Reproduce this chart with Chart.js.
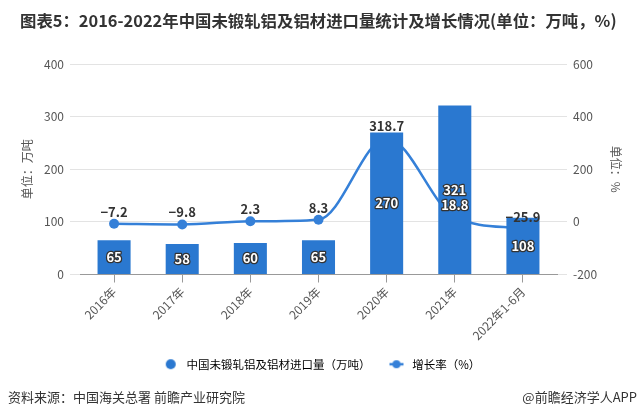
<!DOCTYPE html>
<html><head><meta charset="utf-8">
<script src="https://cdn.jsdelivr.net/npm/chart.js@4.4.1/dist/chart.umd.min.js"></script>
<style>
html,body{margin:0;padding:0;background:#fff;}
#wrap{position:relative;width:641px;height:420px;overflow:hidden;font-family:"Noto Sans CJK SC","Noto Sans",sans-serif;}
#title{position:absolute;left:20px;top:8px;font-size:16.4px;font-weight:bold;color:#333;white-space:nowrap;line-height:24px;}
#src{position:absolute;left:8px;top:388px;font-size:13px;color:#333;white-space:nowrap;line-height:18px;}
#app{position:absolute;right:4px;top:388px;font-size:13px;color:#333;white-space:nowrap;line-height:18px;}
canvas{position:absolute;left:0;top:0;}
</style></head>
<body><div id="wrap">
<canvas id="c" width="641" height="420"></canvas>
<div id="title">图表5：2016-2022年中国未锻轧铝及铝材进口量统计及增长情况(单位：万吨，%)</div>
<div id="src">资料来源：中国海关总署 前瞻产业研究院</div>
<div id="app">@前瞻经济学人APP</div>
</div>
<script>
const categories = ['2016年','2017年','2018年','2019年','2020年','2021年','2022年1-6月'];
const importVolume = [65, 58, 60, 65, 270, 321, 108];
const growthRate = [-7.2, -9.8, 2.3, 8.3, 318.7, 18.8, -25.9];
const leftTicks = [0, 100, 200, 300, 400];
const rightTicks = [-200, 0, 200, 400, 600];
const seriesNames = ['中国未锻轧铝及铝材进口量（万吨）', '增长率（%）'];

const BAR = '#2a78d0';
const LINE = '#3580d8';
const FONT = '"Noto Sans CJK SC","Noto Sans",sans-serif';

function mkCanvas(w, h, draw) { const c = document.createElement('canvas'); c.width = w; c.height = h; draw(c.getContext('2d')); return c; }
const circleIcon = mkCanvas(12, 12, g => { g.fillStyle = BAR; g.beginPath(); g.arc(6, 6, 5, 0, Math.PI * 2); g.fill(); });
const lineIcon = mkCanvas(16, 10, g => { g.strokeStyle = LINE; g.lineWidth = 2.5; g.beginPath(); g.moveTo(1, 5); g.lineTo(15, 5); g.stroke(); g.fillStyle = LINE; g.beginPath(); g.arc(8, 5, 4, 0, Math.PI * 2); g.fill(); });

const fmt = v => (v < 0 ? '\u2212' + Math.abs(v) : String(v));

const labelPlugin = {
  id: 'valueLabels',
  afterDatasetsDraw(chart) {
    const ctx = chart.ctx;
    const barMeta = chart.getDatasetMeta(0);
    const lineMeta = chart.getDatasetMeta(1);
    ctx.save();
    ctx.font = 'bold 13px ' + FONT;
    ctx.textAlign = 'center';
    ctx.textBaseline = 'middle';
    ctx.lineJoin = 'round';
    const outlined = (t, x, y) => { ctx.lineWidth = 2.5; ctx.strokeStyle = '#333'; ctx.strokeText(t, x, y); ctx.fillStyle = '#fff'; ctx.fillText(t, x, y); };
    barMeta.data.forEach((el, i) => {
      outlined(String(importVolume[i]), el.x, (el.y + el.base) / 2);
    });
    lineMeta.data.forEach((pt, i) => {
      const y = pt.y - 12;
      const bar = barMeta.data[i];
      const t = fmt(growthRate[i]);
      if (bar && y > bar.y + 6 && Math.abs(pt.x - bar.x) < bar.width / 2) {
        outlined(t, pt.x, y);
      } else {
        ctx.fillStyle = '#333';
        ctx.fillText(t, pt.x, y);
      }
    });
    ctx.restore();
  }
};

new Chart(document.getElementById('c'), {
  data: {
    labels: categories,
    datasets: [
      { type: 'bar', label: seriesNames[0], data: importVolume, yAxisID: 'y', backgroundColor: BAR,
        categoryPercentage: 1, barPercentage: 0.485, order: 1 },
      { type: 'line', label: seriesNames[1], data: growthRate, yAxisID: 'y1', borderColor: LINE, borderWidth: 2.5,
        cubicInterpolationMode: 'monotone', pointRadius: 5, pointBackgroundColor: LINE, pointBorderWidth: 0, order: 2 }
    ]
  },
  options: {
    responsive: false, animation: false, devicePixelRatio: 1,
    layout: { padding: { top: 64, bottom: 40, left: 0, right: 0 } },
    plugins: {
      tooltip: { enabled: false },
      legend: {
        position: 'bottom',
        labels: {
          usePointStyle: true, pointStyleWidth: 20, boxHeight: 12, padding: 16,
          font: { size: 11.5, family: FONT }, color: '#333',
          generateLabels: chart => [
            { text: seriesNames[0], pointStyle: circleIcon, datasetIndex: 0, fillStyle: BAR, strokeStyle: BAR, lineWidth: 0, hidden: false },
            { text: seriesNames[1], pointStyle: lineIcon, datasetIndex: 1, fillStyle: LINE, strokeStyle: LINE, lineWidth: 0, hidden: false }
          ]
        }
      }
    },
    scales: {
      x: {
        offset: true,
        grid: { offset: false, drawOnChartArea: false, drawTicks: true, tickLength: 8, tickColor: '#999' },
        border: { color: '#999' },
        ticks: { font: { size: 12, family: FONT }, color: '#555', minRotation: 45, maxRotation: 45, autoSkip: false, padding: 2 },
        afterFit: s => { s.height = 68; }
      },
      y: {
        position: 'left', min: 0, max: 400,
        afterBuildTicks: s => { s.ticks = leftTicks.map(v => ({ value: v })); },
        grid: { color: '#e3e3e3', tickLength: 10, tickColor: '#e3e3e3' },
        border: { display: false },
        ticks: { font: { size: 12, family: FONT }, color: '#555', padding: 6 },
        title: { display: true, text: '单位：万吨', font: { size: 12, family: FONT }, color: '#555', padding: { top: 20, bottom: 0 } },
        afterFit: s => { s.width = 80; }
      },
      y1: {
        position: 'right', min: -200, max: 600,
        afterBuildTicks: s => { s.ticks = rightTicks.map(v => ({ value: v })); },
        grid: { drawOnChartArea: false, tickLength: 10, tickColor: '#e3e3e3' },
        border: { display: false },
        ticks: { font: { size: 12, family: FONT }, color: '#555', padding: 6 },
        title: { display: true, text: '单位：%', font: { size: 12, family: FONT }, color: '#555', padding: { top: 18, bottom: 0 } },
        afterFit: s => { s.width = 84; }
      }
    }
  },
  plugins: [labelPlugin]
});
</script>
</body></html>
